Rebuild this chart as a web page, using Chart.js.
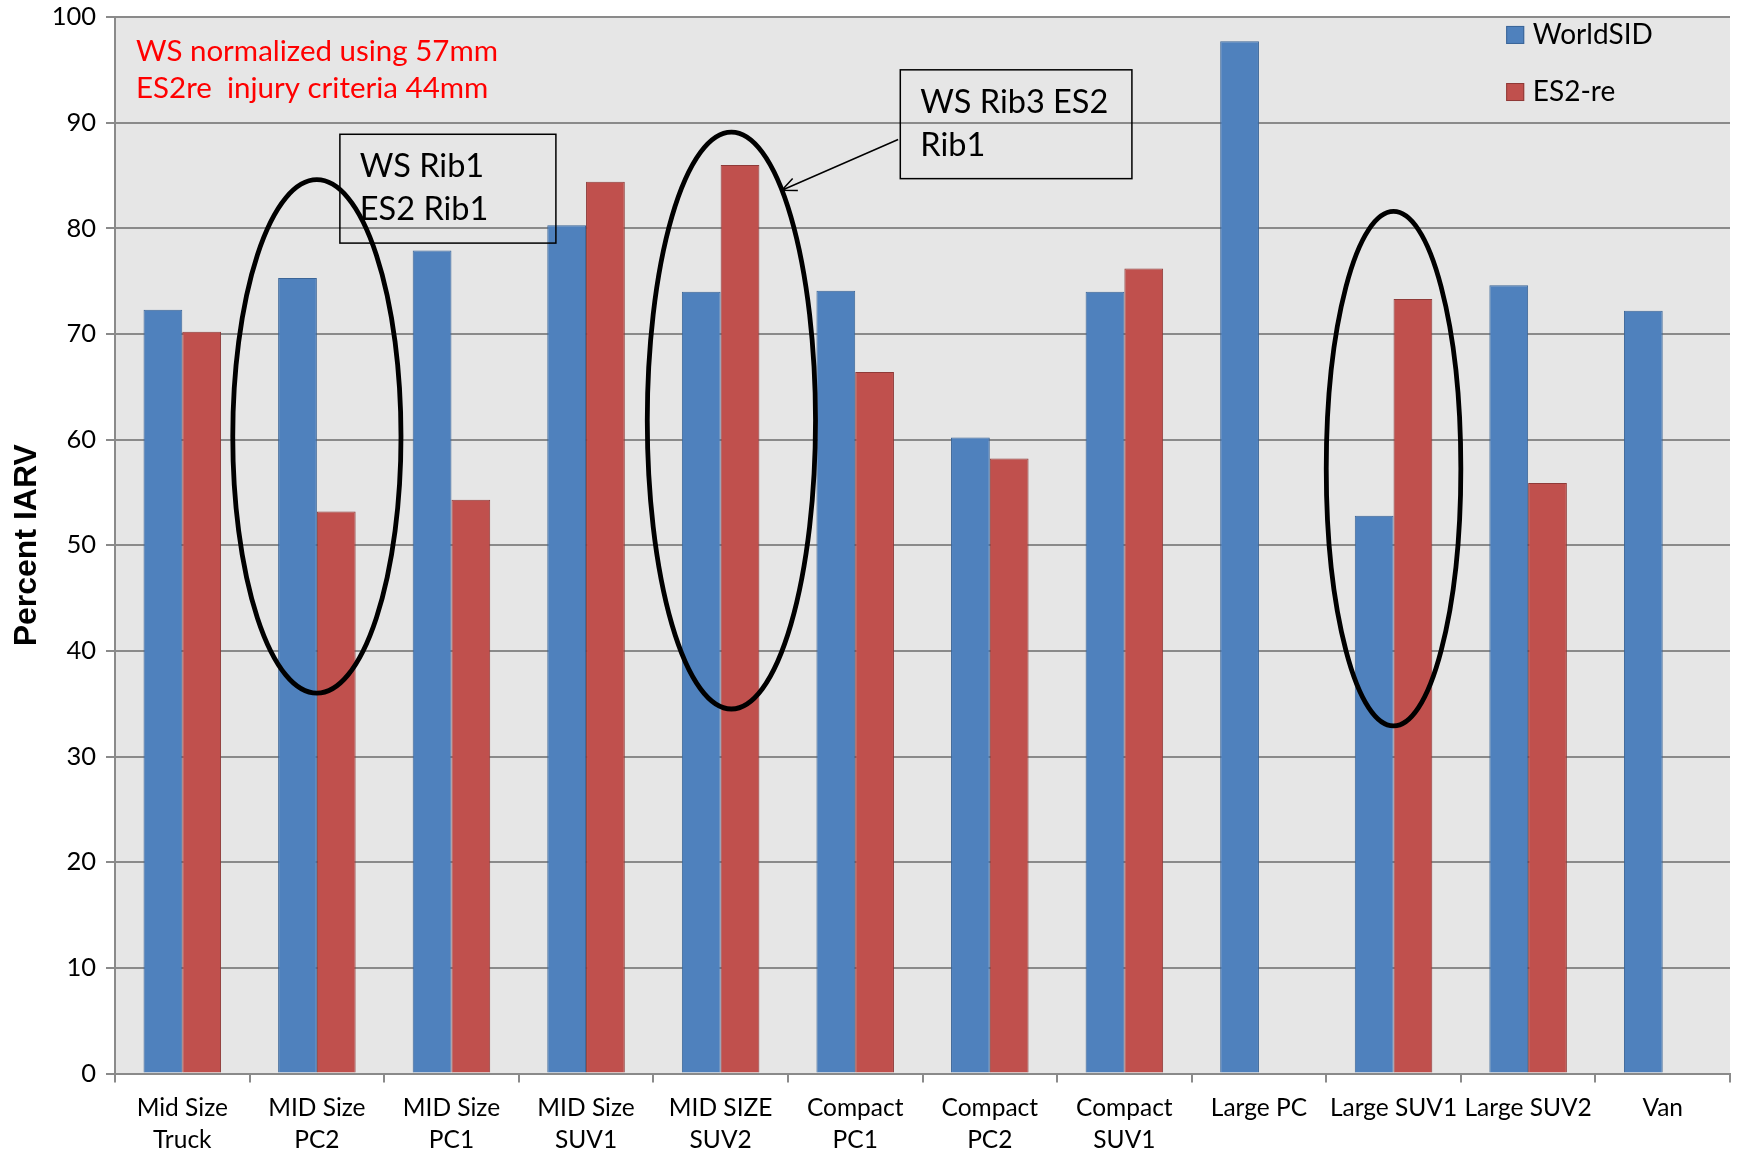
<!DOCTYPE html>
<html>
<head>
<meta charset="utf-8">
<script src="https://cdn.jsdelivr.net/npm/chart.js@4/dist/chart.umd.min.js"></script>
<style>
  html, body { margin: 0; padding: 0; background: #ffffff; }
  #wrap { width: 1737px; height: 1155px; position: relative; }
</style>
</head>
<body>
<div id="wrap"><canvas id="c" width="1737" height="1155"></canvas></div>
<script>
// Vehicle test categories (two-line labels)
const categories = [
  ["Mid Size", "Truck"], ["MID Size", "PC2"], ["MID Size", "PC1"], ["MID Size", "SUV1"],
  ["MID SIZE", "SUV2"], ["Compact", "PC1"], ["Compact", "PC2"], ["Compact", "SUV1"],
  "Large PC", "Large SUV1", "Large SUV2", "Van"
];
// Percent IARV per dummy
const worldSID = [72.3, 75.3, 77.9, 80.3, 74.0, 74.1, 60.2, 74.0, 97.7, 52.8, 74.6, 72.2];
const es2re    = [70.2, 53.2, 54.3, 84.4, 86.0, 66.4, 58.2, 76.2, null, 73.3, 55.9, null];
const seriesNames = ["WorldSID", "ES2-re"];
const yMin = 0, yMax = 100, yStep = 10;

// Callout texts
const noteLines = ["WS normalized using 57mm", "ES2re  injury criteria 44mm"];
const box1Lines = ["WS Rib1", "ES2 Rib1"];
const box2Lines = ["WS Rib3 ES2", "Rib1"];

const BLUE = "#4f81bd", BLUE_EDGE = "#3b6597";
const RED = "#c0504d", RED_EDGE = "#8f3a38";
const GRID = "#8a8a8a";
const LABEL_FONT = "Lato";

// Highlight ellipses: category centre (+offset), vertical extent in data units, half width in category units
const ellipses = [
  { cat: 1, dx: 0.0,  top: 84.6, bottom: 36.0, rx: 0.625 },
  { cat: 4, dx: 0.08, top: 89.1, bottom: 34.5, rx: 0.625 },
  { cat: 9, dx: 0.0,  top: 81.6, bottom: 32.9, rx: 0.50 }
];

const overlayPlugin = {
  id: "overlay",
  beforeDraw(chart) {
    const { ctx, chartArea: a } = chart;
    ctx.save();
    ctx.fillStyle = "#e6e6e6";
    ctx.fillRect(a.left, a.top, a.right - a.left, a.bottom - a.top);
    ctx.restore();
  },
  afterDatasetsDraw(chart) {
    const { ctx } = chart;
    const xs = chart.scales.x, ys = chart.scales.y;
    const catW = (xs.right - xs.left) / categories.length;
    const px = u => xs.left + u * catW;
    const py = v => ys.getPixelForValue(v);

    ctx.save();
    // ellipses
    ctx.strokeStyle = "#000";
    ctx.lineWidth = 4.8;
    ellipses.forEach(e => {
      const cx = xs.getPixelForValue(e.cat) + e.dx * catW;
      const yt = py(e.top), yb = py(e.bottom);
      ctx.beginPath();
      ctx.ellipse(cx, (yt + yb) / 2, e.rx * catW, (yb - yt) / 2, 0, 0, Math.PI * 2);
      ctx.stroke();
    });

    // red note
    ctx.fillStyle = "#ff0000";
    ctx.font = "29.5px " + LABEL_FONT;
    ctx.textBaseline = "middle";
    ctx.textAlign = "left";
    ctx.fillText(noteLines[0], px(0.156), py(96.75));
    ctx.fillText(noteLines[1], px(0.156), py(93.2));

    // callout boxes
    ctx.strokeStyle = "#000";
    ctx.lineWidth = 1.5;
    const drawBox = (u0, u1, v0, v1, lines, tu, tv) => {
      ctx.strokeRect(px(u0), py(v0), px(u1) - px(u0), py(v1) - py(v0));
      ctx.fillStyle = "#000";
      ctx.font = "32.5px " + LABEL_FONT;
      lines.forEach((t, i) => ctx.fillText(t, px(tu), py(tv[i])));
    };
    drawBox(1.671, 3.276, 88.9, 78.6, box1Lines, 1.819, [85.85, 81.76]);
    drawBox(5.835, 7.556, 95.0, 84.7, box2Lines, 5.984, [91.9, 87.8]);

    // arrow from box 2 to the SUV2 ellipse
    const x0 = px(5.819), y0 = py(88.4), x1 = px(4.955), y1 = py(83.6);
    ctx.beginPath();
    ctx.moveTo(x0, y0); ctx.lineTo(x1, y1);
    const ang = Math.atan2(y1 - y0, x1 - x0), hl = 16, ha = 0.42;
    ctx.moveTo(x1 - hl * Math.cos(ang - ha), y1 - hl * Math.sin(ang - ha));
    ctx.lineTo(x1, y1);
    ctx.lineTo(x1 - hl * Math.cos(ang + ha), y1 - hl * Math.sin(ang + ha));
    ctx.stroke();

    // legend
    const legend = [
      { name: seriesNames[0], fill: BLUE, edge: BLUE_EDGE, v: 98.3 },
      { name: seriesNames[1], fill: RED, edge: RED_EDGE, v: 92.9 }
    ];
    ctx.font = "28px " + LABEL_FONT;
    legend.forEach(l => {
      const mx = px(10.337), my = py(l.v);
      ctx.fillStyle = l.fill;
      ctx.fillRect(mx, my - 9, 18, 18);
      ctx.strokeStyle = l.edge;
      ctx.lineWidth = 1;
      ctx.strokeRect(mx + 0.5, my - 8.5, 17, 17);
      ctx.fillStyle = "#000";
      ctx.fillText(l.name, px(10.535), my);
    });
    ctx.restore();
  }
};

new Chart(document.getElementById("c"), {
  type: "bar",
  data: {
    labels: categories,
    datasets: [
      { label: seriesNames[0], data: worldSID, backgroundColor: BLUE, borderColor: BLUE_EDGE, borderWidth: 1 },
      { label: seriesNames[1], data: es2re, backgroundColor: RED, borderColor: RED_EDGE, borderWidth: 1 }
    ]
  },
  options: {
    responsive: false,
    animation: false,
    devicePixelRatio: 1,
    categoryPercentage: 0.576,
    barPercentage: 1.0,
    layout: { padding: { top: 17, right: 7, left: 0, bottom: 0 } },
    plugins: { legend: { display: false }, tooltip: { enabled: false } },
    scales: {
      x: {
        offset: true,
        grid: { display: true, drawOnChartArea: false, offset: true, drawTicks: true, tickLength: 9, color: GRID, lineWidth: 2 },
        border: { display: true, color: GRID, width: 2 },
        ticks: { color: "#000", font: { family: LABEL_FONT, size: 24.5, lineHeight: 1.33 }, padding: 9, maxRotation: 0, autoSkip: false },
        afterFit: s => { s.height = 81.5; s.paddingLeft = 0; s.paddingRight = 0; }
      },
      y: {
        min: yMin, max: yMax,
        ticks: { stepSize: yStep, color: "#000", font: { family: LABEL_FONT, size: 25.5 }, padding: 10 },
        grid: { color: GRID, lineWidth: 2, tickLength: 9 },
        border: { display: true, color: GRID, width: 2 },
        title: { display: true, text: "Percent IARV", color: "#000", font: { family: "Liberation Sans", size: 32, weight: "bold" }, padding: { top: 8, bottom: 0 } },
        afterFit: s => { s.width = 115; s.paddingTop = 0; s.paddingBottom = 0; }
      }
    }
  },
  plugins: [overlayPlugin]
});
</script>
</body>
</html>
